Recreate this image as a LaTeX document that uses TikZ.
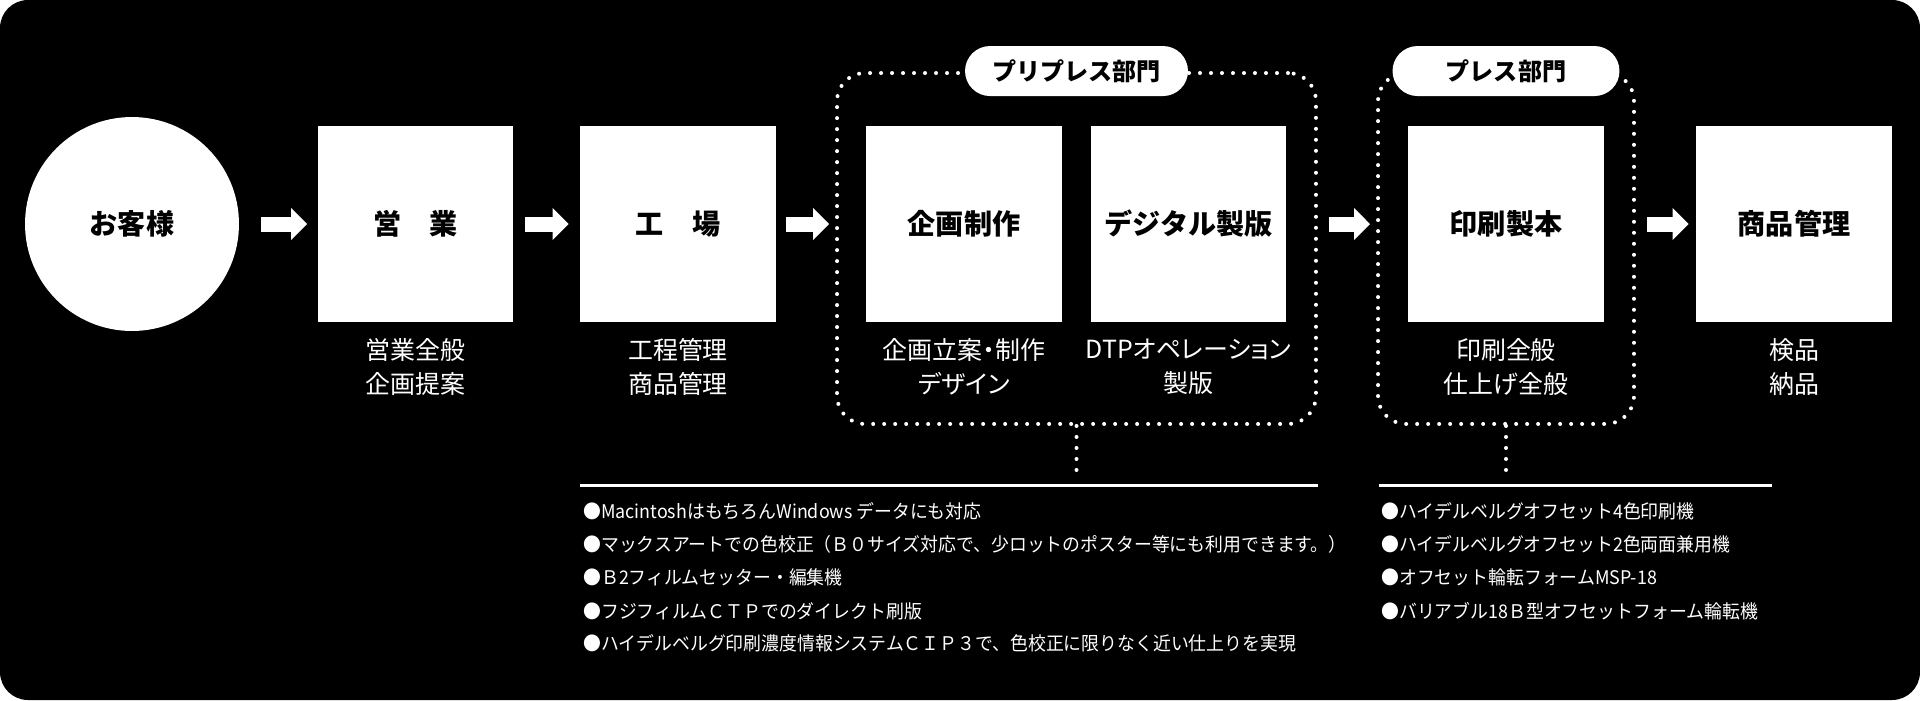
\documentclass[tikz,border=0pt]{standalone}
\usepackage{fontspec}
\setmainfont{Noto Sans CJK JP}
\newfontfamily\subfont{Noto Sans CJK JP}[RawFeature=+palt]
\newfontfamily\listfont{Noto Sans CJK JP}[FakeStretch=0.95]
\usetikzlibrary{arrows.meta, positioning}
\tikzset{
    client/.style={circle, minimum size=4.28cm, inner sep=0pt, fill=white, text=black, font=\fontsize{16pt}{18pt}\selectfont\bfseries},
    stage/.style={rectangle, minimum width=3.92cm, minimum height=3.92cm, inner sep=0pt, fill=white, text=black, font=\fontsize{16pt}{18pt}\selectfont\bfseries},
    duty/.style={text=white, align=center, inner sep=0pt, font=\subfont\fontsize{14.2pt}{19.35pt}\selectfont},
    section/.style={rectangle, draw=white, line width=0.08cm, dash pattern=on 0pt off 0.22cm, line cap=round, rounded corners=0.56cm, minimum height=7.02cm, inner sep=0pt},
    pill/.style={rectangle, rounded corners=0.5cm, fill=white, text=black, minimum height=1cm, inner sep=0pt, font=\fontsize{13.7pt}{16pt}\selectfont\bfseries},
    flow/.style={white, line width=0.3cm, -{Triangle[length=0.32cm, width=0.62cm]}},
    dotline/.style={white, line width=0.08cm, dash pattern=on 0pt off 0.22cm, line cap=round},
    rule/.style={white, line width=0.06cm},
    item/.style={text=white, anchor=base west, inner sep=0pt, font=\listfont\fontsize{10.7pt}{12pt}\selectfont}
}

\begin{document}
\begin{tikzpicture}[x=0.02cm, y=-0.02cm]
    \useasboundingbox (0,0) rectangle (1920,700);
    % Background panel
    \fill[black, rounded corners=0.56cm] (0,0) rectangle (1920,700);

    % Customer and stages
    \node (customer) [client] at (132,224) {お客様};
    \node (sales) [stage] at (415.5,224) {営　業};
    \node (factory) [stage] at (678,224) {工　場};
    \node (planning) [stage] at (964,224) {企画制作};
    \node (platemaking) [stage] at (1188.5,224) {デジタル製版};
    \node (printing) [stage] at (1506,224) {印刷製本};
    \node (goods) [stage] at (1794,224) {商品管理};

    % Departments
    \node (prepress) [section, minimum width=9.58cm] at (1076.5,248.5) {};
    \node (press) [section, minimum width=5.12cm] at (1506,248.5) {};
    \node (prepresstag) [pill, minimum width=4.46cm] at (prepress.north) {プリプレス部門};
    \node (presstag) [pill, minimum width=4.54cm] at (press.north) {プレス部門};

    % Duties
    \node (salesduty) [duty, below=0.32cm of sales] {営業全般\\企画提案};
    \node (factoryduty) [duty, below=0.32cm of factory] {工程管理\\商品管理};
    \node (planningduty) [duty, below=0.32cm of planning] {企画立案・制作\\デザイン};
    \node (platemakingduty) [duty, below=0.32cm of platemaking] {DTPオペレーション\\製版};
    \node (printingduty) [duty, below=0.32cm of printing] {印刷全般\\仕上げ全般};
    \node (goodsduty) [duty, below=0.32cm of goods] {検品\\納品};

    % Flow
    \draw[flow, shorten <=0.44cm, shorten >=0.2cm] (customer) -- (sales);
    \draw[flow, shorten <=0.22cm, shorten >=0.22cm] (sales) -- (factory);
    \draw[flow, shorten <=0.2cm, shorten >=0.12cm] (factory.east) -- (factory.east -| prepress.west);
    \draw[flow, shorten <=0.22cm, shorten >=0.12cm] (platemaking.east -| prepress.east) -- (printing.west -| press.west);
    \draw[flow, shorten <=0.22cm, shorten >=0.14cm] (printing.east -| press.east) -- (goods.west);

    % Prepress equipment
    \draw[dotline] (prepress.south) -- ++(0,46);
    \draw[rule] (580,485) -- (1318,485);
    \node (pre1) [item] at (583,518) {●MacintoshはもちろんWindows データにも対応};
    \node (pre2) [item] at (583,551) {●マックスアートでの色校正（Ｂ０サイズ対応で、少ロットのポスター等にも利用できます。）};
    \node (pre3) [item] at (583,584) {●Ｂ2フィルムセッター・編集機};
    \node (pre4) [item] at (583,618) {●フジフィルムＣＴＰでのダイレクト刷版};
    \node (pre5) [item] at (583,650) {●ハイデルベルグ印刷濃度情報システムＣＩＰ３で、色校正に限りなく近い仕上りを実現};

    % Press equipment
    \draw[dotline] (press.south) -- ++(0,46);
    \draw[rule] (1379,485) -- (1772,485);
    \node (press1) [item] at (1381,518) {●ハイデルベルグオフセット4色印刷機};
    \node (press2) [item] at (1381,551) {●ハイデルベルグオフセット2色両面兼用機};
    \node (press3) [item] at (1381,584) {●オフセット輪転フォームMSP-18};
    \node (press4) [item] at (1381,618) {●バリアブル18Ｂ型オフセットフォーム輪転機};
\end{tikzpicture}
\end{document}
